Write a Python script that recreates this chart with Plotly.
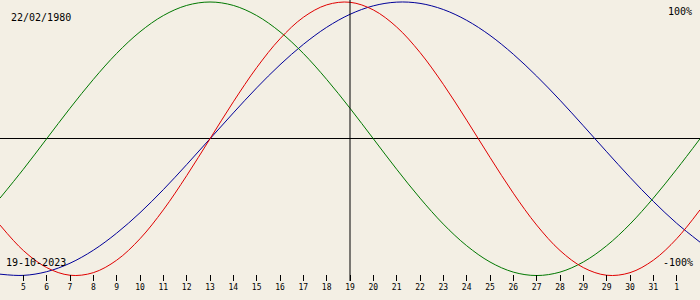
import plotly.graph_objects as go

# Biorhythm chart: birth date 22/02/1980, centre date 19-10-2023
birth_label = "22/02/1980"
center_label = "19-10-2023"

day_index = list(range(31))  # 0..30, centre day at index 15
center_index = 15

tick_index = list(range(1, 30))
tick_labels = ["5", "6", "7", "8", "9", "10", "11", "12", "13", "14", "15", "16",
               "17", "18", "19", "20", "21", "22", "23", "24", "25", "26", "27",
               "28", "29", "29", "30", "31", "1"]

# values in percent (one per day)
physical = [-63.1, -81.7, -94.2, -99.8, -97.9, -88.8, -73.1, -52.0, -27.0, 0.0,
            27.0, 52.0, 73.1, 88.8, 97.9, 99.8, 94.2, 81.7, 63.1, 39.8, 13.6,
            -13.6, -39.8, -63.1, -81.7, -94.2, -99.8, -97.9, -88.8, -73.1, -52.0]
emotional = [-43.4, -22.3, 0.0, 22.3, 43.4, 62.4, 78.2, 90.1, 97.5, 100.0,
             97.5, 90.1, 78.2, 62.4, 43.4, 22.3, 0.0, -22.3, -43.4, -62.4, -78.2,
             -90.1, -97.5, -100.0, -97.5, -90.1, -78.2, -62.4, -43.4, -22.3, 0.0]
intellectual = [-99.0, -99.9, -97.2, -91.0, -81.5, -69.0, -54.1, -37.2, -18.9, 0.0,
                18.9, 37.2, 54.1, 69.0, 81.5, 91.0, 97.2, 99.9, 99.0, 94.5, 86.6,
                75.6, 61.8, 45.8, 28.2, 9.5, -9.5, -28.2, -45.8, -61.8, -75.6]

BG = "#f3efe4"
RED = "#e00000"
GREEN = "#007800"
BLUE = "#000099"
FONT = "DejaVu Sans Mono"

fig = go.Figure()
for vals, col in [(intellectual, BLUE), (emotional, GREEN), (physical, RED)]:
    fig.add_trace(go.Scatter(x=day_index, y=vals, mode="lines",
                             line=dict(color=col, width=1, shape="spline", smoothing=1.0),
                             hoverinfo="skip", showlegend=False))

fig.add_shape(type="line", xref="x", yref="paper", x0=center_index, x1=center_index,
              y0=0, y1=1, line=dict(color="black", width=1), layer="above")

PLOT_H = 281
def py(px):
    return (PLOT_H - px) / PLOT_H

fig.add_annotation(text=birth_label, xref="paper", yref="paper", x=9 / 700, y=py(17),
                   xanchor="left", yanchor="middle", showarrow=False,
                   font=dict(family=FONT, size=10, color="black"))
fig.add_annotation(text="100%", xref="paper", yref="paper", x=694 / 700, y=py(12),
                   xanchor="right", yanchor="middle", showarrow=False,
                   font=dict(family=FONT, size=10, color="black"))
fig.add_annotation(text=center_label, xref="paper", yref="paper", x=4 / 700, y=py(262),
                   xanchor="left", yanchor="middle", showarrow=False,
                   font=dict(family=FONT, size=10, color="black"))
fig.add_annotation(text="-100%", xref="paper", yref="paper", x=695 / 700, y=py(262.5),
                   xanchor="right", yanchor="middle", showarrow=False,
                   font=dict(family=FONT, size=10, color="black"))

fig.update_layout(
    width=700, height=300,
    margin=dict(l=0, r=0, t=0, b=300 - PLOT_H, pad=0),
    paper_bgcolor=BG, plot_bgcolor=BG,
    xaxis=dict(range=[0, 30], tickvals=tick_index, ticktext=tick_labels,
               ticks="inside", ticklen=6, tickwidth=1, tickcolor="black",
               showgrid=False, zeroline=False, showline=False,
               tickfont=dict(family=FONT, size=8, color="black"), fixedrange=True),
    yaxis=dict(range=[-104.0, 101.46], showticklabels=False, showgrid=False,
               zeroline=True, zerolinecolor="black", zerolinewidth=1,
               ticks="", fixedrange=True),
)

fig.write_html("out.html")
